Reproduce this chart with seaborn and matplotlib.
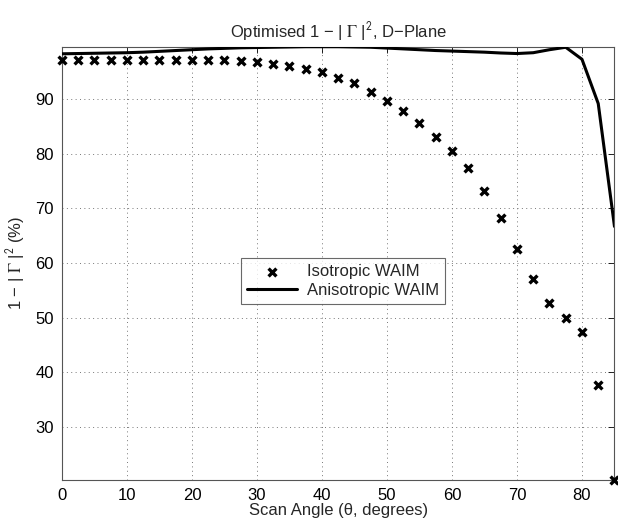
import numpy as np
import pandas as pd
import matplotlib
matplotlib.use("Agg")
import matplotlib.pyplot as plt
import seaborn as sns

# ---- data ----
angles = [0, 2.5, 5, 7.5, 10, 12.5, 15, 17.5, 20, 22.5, 25, 27.5, 30, 32.5, 35,
          37.5, 40, 42.5, 45, 47.5, 50, 52.5, 55, 57.5, 60, 62.5, 65, 67.5, 70,
          72.5, 75, 77.5, 80, 82.5, 85]
isotropic = [97.25, 97.25, 97.25, 97.25, 97.25, 97.25, 97.25, 97.25, 97.25, 97.2,
             97.15, 97.0, 96.8, 96.5, 96.1, 95.5, 94.9, 93.9, 92.9, 91.3,
             89.6, 87.8, 85.55, 83.1, 80.55, 77.4, 73.25, 68.3, 62.6, 57.15,
             52.65, 49.9, 47.4, 37.6, 20.3]
anisotropic = [98.3, 98.35, 98.4, 98.45, 98.5, 98.6, 98.75, 98.9, 99.05, 99.2,
               99.3, 99.4, 99.45, 99.5, 99.55, 99.6, 99.6, 99.6, 99.55, 99.5,
               99.35, 99.2, 99.05, 98.9, 98.8, 98.7, 98.6, 98.45, 98.35, 98.5,
               99.05, 99.5, 97.3, 89.2, 66.7]
x_ticks = [0, 10, 20, 30, 40, 50, 60, 70, 80]
y_ticks = [30, 40, 50, 60, 70, 80, 90]

df = pd.DataFrame({"angle": angles, "iso": isotropic, "aniso": anisotropic})

sns.set_theme(style="white")
plt.rcParams["font.family"] = ["Liberation Sans", "DejaVu Sans"]
plt.rcParams["mathtext.fontset"] = "stix"

fig = plt.figure(figsize=(6.18, 5.23), dpi=100)
ax = fig.add_axes([0.1003, 0.0822, 0.8940, 0.8285])

sns.scatterplot(data=df, x="angle", y="iso", marker="x", s=32, linewidth=2.4,
                color="black", ax=ax, label="Isotropic WAIM", clip_on=False,
                zorder=3)
sns.lineplot(data=df, x="angle", y="aniso", color="black", linewidth=2.2,
             ax=ax, label="Anisotropic WAIM", zorder=3)

ax.set_xlim(0, 85)
ax.set_ylim(20.3, 99.6)
ax.set_xticks(x_ticks)
ax.set_yticks(y_ticks)
ax.tick_params(direction="in", top=True, right=True, length=4, width=0.6,
               labelsize=12, colors="black", pad=6)
ax.grid(True, linestyle=(0, (1, 3.5)), color="#777777", linewidth=0.7)
for s in ax.spines.values():
    s.set_color("#555555")
    s.set_linewidth(0.8)

ax.set_title(r"Optimised 1 − | $\Gamma$ |$^{\mathsf{2}}$, D−Plane",
             fontsize=12, pad=7)
ax.set_xlabel("Scan Angle (θ, degrees)", fontsize=12, labelpad=0)
ax.set_ylabel(r"1 − | $\Gamma$ |$^{\mathsf{2}}$ (%)", fontsize=12, labelpad=6)

leg = ax.legend(loc="center", bbox_to_anchor=(0.508, 0.459), fontsize=12,
                frameon=True, fancybox=False, edgecolor="#444444",
                handlelength=3.0, borderpad=0.35, labelspacing=0.25,
                handletextpad=0.6)
leg.get_frame().set_linewidth(0.8)

fig.savefig("out.png", dpi=100)
